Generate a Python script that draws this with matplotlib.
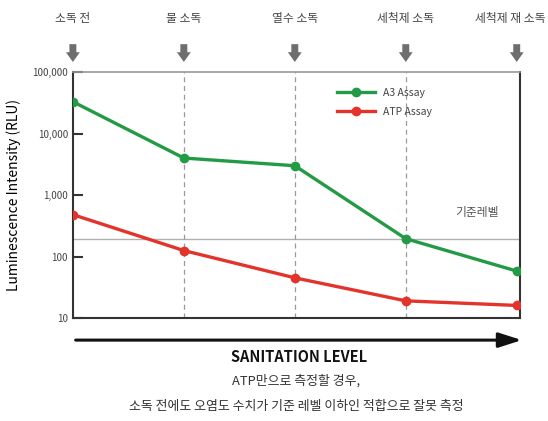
import matplotlib.pyplot as plt
from matplotlib.ticker import FixedLocator

plt.rcParams['font.family'] = ['Noto Sans CJK KR', 'DejaVu Sans']

# 데이터
단계 = ["소독 전", "물 소독", "열수 소독", "세척제 소독", "세척제 재 소독"]
a3_assay = [33000, 4000, 3000, 195, 58]
atp_assay = [480, 125, 45, 19, 16]
기준레벨 = 190
y_ticks = [10, 100, 1000, 10000, 100000]
y_tick_labels = ["10", "100", "1,000", "10,000", "100,000"]

narrow = ['Liberation Sans Narrow', 'Noto Sans CJK KR', 'DejaVu Sans']

fig = plt.figure(figsize=(5.48, 4.21), dpi=100)
ax = fig.add_axes([0.133, 0.2447, 0.816, 0.584])

x = list(range(len(단계)))

ax.plot(x, a3_assay, color="#239a45", marker="o", markersize=6, lw=2.4, label="A3 Assay", zorder=4)
ax.plot(x, atp_assay, color="#e3342b", marker="o", markersize=6, lw=2.4, label="ATP Assay", zorder=4)

ax.axhline(기준레벨, color="#b0b0b0", lw=1, zorder=1)
for xi in x[1:-1]:
    ax.axvline(xi, color="#9a9a9a", lw=0.9, ls=(0, (4, 3)), zorder=1)

ax.text(3.84, 520, "기준레벨", ha="right", va="center", fontsize=8.5, color="#555555")

ax.set_yscale("log")
ax.set_ylim(10, 100000)
ax.set_xlim(0, 4.03)
ax.yaxis.set_major_locator(FixedLocator(y_ticks))
ax.yaxis.set_minor_locator(FixedLocator([]))
ax.set_yticklabels(y_tick_labels, fontsize=7, color="#444444", family=narrow)
ax.tick_params(axis="y", direction="in", length=7, width=1.5, color="#333333")
ax.set_xticks([])
ax.set_ylabel("Luminescence Intensity (RLU)", fontsize=10, family=narrow, labelpad=8)

for s in ["left", "bottom", "right"]:
    ax.spines[s].set_color("#333333")
    ax.spines[s].set_linewidth(1.5)
ax.spines["top"].set_color("#999999")
ax.spines["top"].set_linewidth(1.2)

leg = ax.legend(loc="upper left", bbox_to_anchor=(0.57, 0.975), frameon=False,
                handlelength=3.6, labelspacing=0.9, prop={'family': narrow, 'size': 7.5})
for t in leg.get_texts():
    t.set_color("#444444")

# 상단 화살표와 단계 이름
for xi, name in zip(x, 단계):
    ax.annotate("", xy=(xi, 1.03), xytext=(xi, 1.125),
                xycoords=("data", "axes fraction"), textcoords=("data", "axes fraction"),
                arrowprops=dict(arrowstyle="simple,head_width=1.0,head_length=0.7,tail_width=0.5",
                                color="#6e6e6e", lw=0), annotation_clip=False)
    lx = xi if xi < len(단계) - 1 else xi - 0.06
    ax.text(lx, 1.22, name, transform=ax.get_xaxis_transform(), ha="center", va="center",
            fontsize=8.5, color="#444444")

# 하단 화살표
ax.annotate("", xy=(1.01, -0.09), xytext=(0.0, -0.09),
            xycoords="axes fraction", textcoords="axes fraction",
            arrowprops=dict(arrowstyle="-|>,head_width=0.45,head_length=1.4", color="#111111", lw=2.2),
            annotation_clip=False)
ax.text(0.505, -0.16, "SANITATION LEVEL", transform=ax.transAxes, ha="center", va="center",
        fontsize=10.5, fontweight="bold", family=narrow, color="#111111")
ax.text(0.5, -0.258, "ATP만으로 측정할 경우,", transform=ax.transAxes, ha="center", va="center",
        fontsize=9.3, color="#333333")
ax.text(0.5, -0.36, "소독 전에도 오염도 수치가 기준 레벨 이하인 적합으로 잘못 측정", transform=ax.transAxes,
        ha="center", va="center", fontsize=9.3, color="#333333")

plt.savefig("out.png", dpi=100)
